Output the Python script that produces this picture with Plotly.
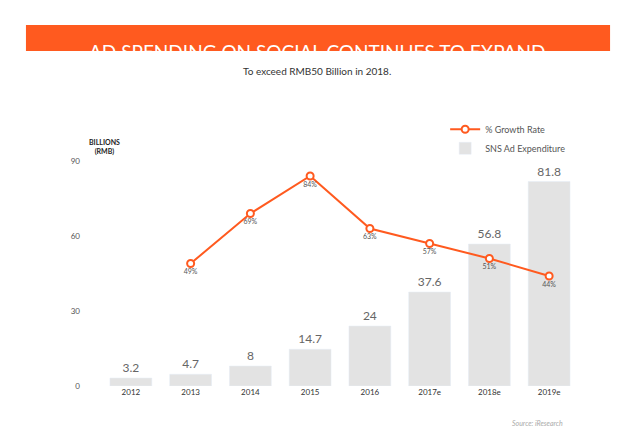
import plotly.graph_objects as go

years = ["2012", "2013", "2014", "2015", "2016", "2017e", "2018e", "2019e"]
spend = [3.2, 4.7, 8, 14.7, 24, 37.6, 56.8, 81.8]
growth_years = ["2013", "2014", "2015", "2016", "2017e", "2018e", "2019e"]
growth = [49, 69, 84, 63, 57, 51, 44]

orange = "#ff5a1f"
fig = go.Figure()
fig.add_trace(go.Bar(x=years, y=spend, name="SNS Ad Expenditure", marker_color="#e3e3e3",
                     width=0.7, text=[str(v) for v in spend], textposition="outside",
                     textfont=dict(size=12, color="#666"), cliponaxis=False))
fig.add_trace(go.Scatter(x=growth_years, y=growth, name="% Growth Rate", mode="lines+markers+text",
                         line=dict(color=orange, width=2),
                         marker=dict(size=7, color="white", line=dict(color=orange, width=2)),
                         text=[f"{v}%" for v in growth], textposition="bottom center",
                         textfont=dict(size=7, color="#555")))

fig.update_layout(
    width=620, height=439, plot_bgcolor="white", paper_bgcolor="white",
    font=dict(family="Lato", color="#555"),
    margin=dict(l=93, r=49, t=138, b=61, autoexpand=False),
    showlegend=True,
    legend=dict(x=0.72, y=1.13, xanchor="left", yanchor="top", font=dict(size=9, color="#555"),
                traceorder="reversed", bgcolor="rgba(0,0,0,0)", itemwidth=30, tracegroupgap=0),
    shapes=[dict(type="rect", xref="paper", yref="paper", x0=-0.157, x1=1.065, y0=1.396, y1=1.504,
                 fillcolor=orange, line_width=0, layer="below")],
    annotations=[
        dict(text="AD SPENDING ON SOCIAL CONTINUES TO EXPAND", xref="paper", yref="paper",
             x=0.452, y=1.45, showarrow=False, font=dict(size=19, color="white")),
        dict(text="To exceed RMB50 Billion in 2018.", xref="paper", yref="paper",
             x=0.452, y=1.346, showarrow=False, font=dict(size=10, color="#333")),
        dict(text="<b>BILLIONS<br>(RMB)</b>", xref="paper", yref="paper", x=-0.03, y=1.04,
             showarrow=False, align="center", font=dict(size=7, color="#222")),
        dict(text="<i>Source: iResearch</i>", xref="paper", yref="paper", x=0.97, y=-0.18,
             showarrow=False, xanchor="right", font=dict(size=7, color="#aaa")),
    ],
)
fig.update_xaxes(showline=False, ticks="", tickfont=dict(size=8, color="#333"), range=[-0.5, 7.5])
fig.update_yaxes(range=[0, 96], tickvals=[0, 30, 60, 90], showgrid=False, zeroline=False,
                 tickfont=dict(size=8, color="#555"), ticklabelstandoff=20)
fig.write_html("out.html")
